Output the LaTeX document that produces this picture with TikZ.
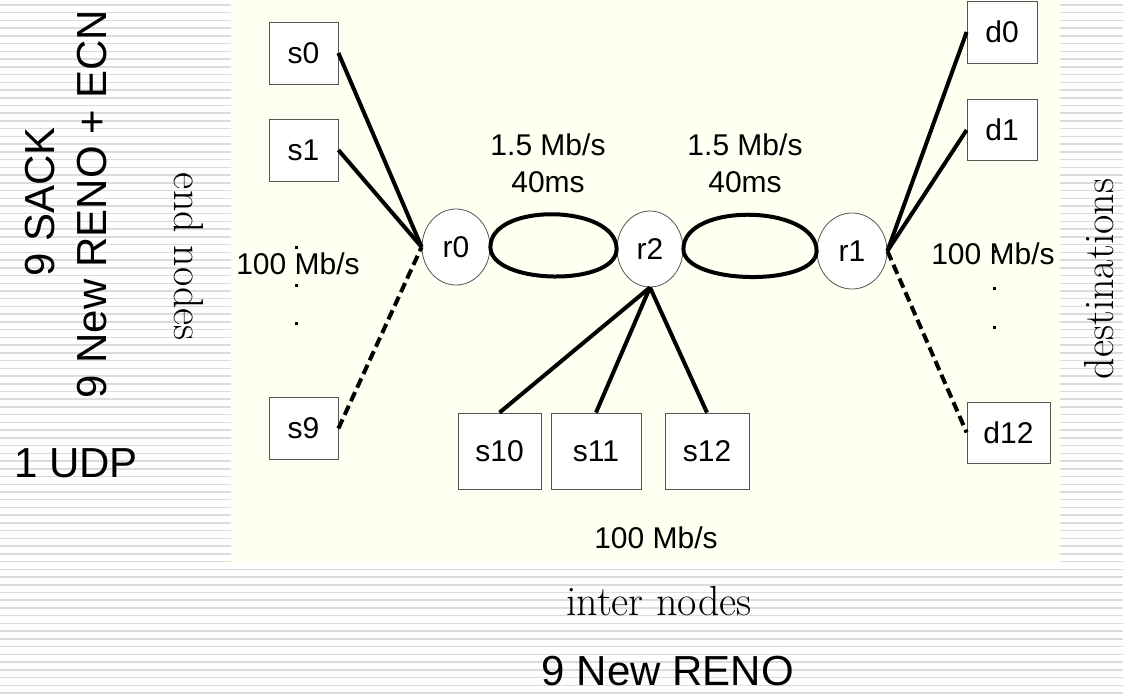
\documentclass[tikz,border=0pt]{standalone}
\usepackage{fontspec}
\setsansfont{Liberation Sans}
\usetikzlibrary{shapes.geometric}
\definecolor{panelcolor}{HTML}{FFFFF2}
\definecolor{rulecolor}{HTML}{DCDCDC}
\definecolor{edgecolor}{HTML}{555555}

\tikzset{
    host/.style = {draw = edgecolor, fill = white, rectangle, line width = 0.8pt, inner sep = 0pt,
                   minimum width = 69pt, minimum height = 62pt, font = \sffamily\fontsize{30}{36}\selectfont},
    router/.style = {draw = edgecolor, fill = white, ellipse, line width = 0.8pt, inner sep = 0pt,
                     minimum width = 68pt, minimum height = 76pt, font = \sffamily\fontsize{30}{36}\selectfont},
    link/.style = {line width = 4pt},
    dashlink/.style = {line width = 4pt, dash pattern = on 10pt off 5pt},
    ratelabel/.style = {font = \sffamily\fontsize{30}{37}\selectfont, align = center, inner sep = 0pt},
    biglabel/.style = {font = \sffamily\fontsize{42}{48}\selectfont, inner sep = 0pt},
    seriflabel/.style = {font = \fontsize{42}{48}\selectfont, inner sep = 0pt}
}

\begin{document}
\begin{tikzpicture}[x = 1pt, y = -1pt]
        \useasboundingbox (0, 0) rectangle (1123, 694);

        % Ruled background and panel
        \foreach \k in {0, ..., 89}
            \draw [rulecolor, line width = 1.5pt] (0, 5 + 7.73 * \k) -- (1123, 5 + 7.73 * \k);
        \fill [panelcolor] (231, 0) rectangle (1060, 563);

        % Nodes
        \node [host] (s0) at (303.5, 53) {s0};
        \node [host] (s1) at (303.5, 150) {s1};
        \node [host] (s9) at (303.5, 428.5) {s9};
        \node [host, minimum width = 83pt, minimum height = 76pt] (s10) at (499.5, 451) {s10};
        \node [host, minimum width = 90pt, minimum height = 76pt] (s11) at (596, 451) {s11};
        \node [host, minimum width = 84pt, minimum height = 76pt] (s12) at (707, 451) {s12};
        \node [host, minimum width = 70pt] (d0) at (1002, 32) {d0};
        \node [host, minimum width = 70pt, minimum height = 61pt] (d1) at (1002, 130) {d1};
        \node [host, minimum width = 83pt, minimum height = 61pt] (d12) at (1008.5, 432.5) {d12};

        \node [router] (r0) at (456, 247) {r0};
        \node [router, minimum width = 66pt] (r2) at (650, 249) {r2};
        \node [router, minimum width = 70pt] (r1) at (852, 251) {r1};

        % Draw the links
        \draw [link] (s0.east) -- (r0.west);
        \draw [link] (s1.east) -- (r0.west);
        \draw [dashlink] (s9.east) -- (r0.west);

        \draw [link] (r2.south) -- (s10.north);
        \draw [link] (r2.south) -- (s11.north);
        \draw [link] (r2.south) -- (s12.north);

        \draw [link] (r1.east) -- (d0.west);
        \draw [link] (r1.east) -- (d1.west);
        \draw [dashlink] (r1.east) -- (d12.west);

        \draw [link] (r0.east) .. controls +(0, -45) and +(0, -45) .. (r2.west)
                               .. controls +(0, 38) and +(0, 38) .. (r0.east);
        \draw [link] (r2.east) .. controls +(0, -47) and +(0, -47) .. (r1.west)
                               .. controls +(0, 36) and +(0, 36) .. (r2.east);

        % Link labels
        \node [ratelabel] (bw0) at (548, 163) {1.5 Mb/s\\40ms};
        \node [ratelabel] (bw1) at (745, 163) {1.5 Mb/s\\40ms};
        \node [ratelabel] (lan0) at (298, 264) {100 Mb/s};
        \node [ratelabel] (lan1) at (993, 254) {100 Mb/s};
        \node [ratelabel] (lan2) at (656, 538) {100 Mb/s};

        % Vertical dots
        \foreach \y in {247, 285, 323}
            \fill (294.5, \y - 1.5) rectangle +(3, 3);
        \foreach \y in {251, 288, 327}
            \fill (992.5, \y - 1.5) rectangle +(3, 3);

        % Side texts
        \node [biglabel, rotate = 90] (sack) at (40, 202) {9 SACK};
        \node [biglabel, rotate = 90] (ecn) at (92, 204) {9 New RENO + ECN};
        \node [biglabel] (udp) at (76, 463) {1 UDP};
        \node [biglabel] (reno) at (668, 671) {9 New RENO};
        \node [seriflabel, rotate = -90] (endn) at (189, 257) {end nodes};
        \node [seriflabel, rotate = 90] (dest) at (1099, 279) {destinations};
        \node [seriflabel] (inter) at (659, 601) {inter nodes};

    \end{tikzpicture}
\end{document}
